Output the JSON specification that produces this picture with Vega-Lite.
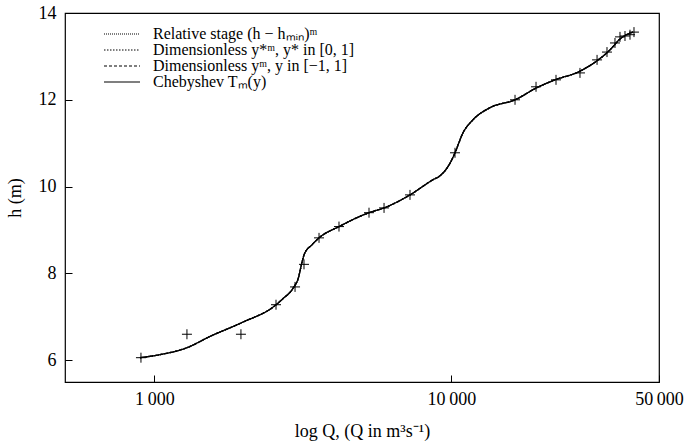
{
  "$schema": "https://vega.github.io/schema/vega-lite/v6.json",
  "width": 594,
  "height": 369,
  "autosize": {"type": "none"},
  "padding": {"left": 65, "top": 13, "right": 25, "bottom": 65},
  "background": "white",
  "config": {
    "view": {"stroke": "black", "strokeWidth": 1.2},
    "font": "Liberation Serif",
    "axis": {
      "domain": false,
      "grid": false,
      "tickColor": "black",
      "tickSize": -7,
      "tickWidth": 1,
      "labelFont": "Liberation Serif",
      "labelFontSize": 18,
      "labelColor": "black",
      "titleFont": "Liberation Serif",
      "titleFontSize": 18,
      "titleFontWeight": "normal",
      "titleColor": "black"
    },
    "legend": {
      "labelFont": "Liberation Serif",
      "labelFontSize": 16,
      "labelColor": "black",
      "labelLimit": 500
    }
  },
  "datasets": {
    "pts": [
      {"Q": 901, "h": 6.06},
      {"Q": 1287, "h": 6.60},
      {"Q": 1956, "h": 6.60},
      {"Q": 2567, "h": 7.28},
      {"Q": 2975, "h": 7.69},
      {"Q": 3189, "h": 8.21},
      {"Q": 3583, "h": 8.82},
      {"Q": 4183, "h": 9.08},
      {"Q": 5279, "h": 9.40},
      {"Q": 5932, "h": 9.51},
      {"Q": 7254, "h": 9.81},
      {"Q": 10282, "h": 10.78},
      {"Q": 16375, "h": 12.00},
      {"Q": 19270, "h": 12.30},
      {"Q": 22500, "h": 12.46},
      {"Q": 27100, "h": 12.62},
      {"Q": 30930, "h": 12.92},
      {"Q": 33410, "h": 13.10},
      {"Q": 35540, "h": 13.31},
      {"Q": 36950, "h": 13.45},
      {"Q": 38410, "h": 13.47},
      {"Q": 39930, "h": 13.50},
      {"Q": 41190, "h": 13.56}
    ],
    "curve": [
      {"Q": 894, "h": 6.06},
      {"Q": 1044, "h": 6.13},
      {"Q": 1287, "h": 6.29},
      {"Q": 1539, "h": 6.55},
      {"Q": 1972, "h": 6.87},
      {"Q": 2548, "h": 7.26},
      {"Q": 2710, "h": 7.42},
      {"Q": 2929, "h": 7.66},
      {"Q": 3060, "h": 7.92},
      {"Q": 3130, "h": 8.22},
      {"Q": 3200, "h": 8.45},
      {"Q": 3393, "h": 8.66},
      {"Q": 3583, "h": 8.82},
      {"Q": 4183, "h": 9.08},
      {"Q": 5279, "h": 9.40},
      {"Q": 5932, "h": 9.51},
      {"Q": 7254, "h": 9.81},
      {"Q": 8672, "h": 10.16},
      {"Q": 9155, "h": 10.25},
      {"Q": 9892, "h": 10.54},
      {"Q": 10282, "h": 10.78},
      {"Q": 10940, "h": 11.24},
      {"Q": 11820, "h": 11.54},
      {"Q": 13490, "h": 11.82},
      {"Q": 16375, "h": 12.00},
      {"Q": 19400, "h": 12.28},
      {"Q": 22320, "h": 12.46},
      {"Q": 26700, "h": 12.64},
      {"Q": 30930, "h": 12.90},
      {"Q": 34200, "h": 13.15},
      {"Q": 36950, "h": 13.40},
      {"Q": 40880, "h": 13.56}
    ]
  },
  "encoding": {
    "x": {
      "field": "Q",
      "type": "quantitative",
      "scale": {"type": "log", "domain": [500, 50000], "nice": false},
      "axis": {
        "values": [1000, 10000, 50000],
        "labelExpr": "replace(format(datum.value, ','), ',', '\u2009')",
        "labelPadding": 15,
        "labelFlush": false,
        "title": "log Q, (Q in m³s⁻¹)",
        "titlePadding": 14
      }
    },
    "y": {
      "field": "h",
      "type": "quantitative",
      "scale": {"domain": [5.5, 14], "nice": false, "zero": false},
      "axis": {
        "values": [6, 8, 10, 12, 14],
        "labelPadding": 16,
        "title": "h (m)",
        "titlePadding": 14
      }
    }
  },
  "layer": [
    {
      "data": {"name": "curve"},
      "mark": {"type": "line", "interpolate": "monotone", "color": "black", "strokeWidth": 1.3},
      "encoding": {
        "strokeDash": {
          "datum": "Relative stage (h − hₘᵢₙ)ᵐ",
          "type": "nominal",
          "scale": {
            "domain": ["Relative stage (h − hₘᵢₙ)ᵐ", "Dimensionless y*ᵐ, y* in [0, 1]", "Dimensionless yᵐ, y in [−1, 1]", "Chebyshev Tₘ(y)"],
            "range": [[1, 1], [1.5, 1.5], [3, 2], [1, 0]]
          },
          "legend": {
            "title": null,
            "orient": "none",
            "legendX": 49,
            "legendY": 13,
            "padding": 0,
            "symbolType": "M-3,0H3",
            "symbolSize": 144,
            "symbolFillColor": "transparent",
            "symbolStrokeColor": "black",
            "symbolStrokeWidth": 1.2,
            "labelOffset": 23,
            "labelLimit": 500,
            "rowPadding": -1
          }
        }
      }
    },
    {
      "data": {"name": "curve"},
      "mark": {"type": "line", "interpolate": "monotone", "color": "black", "strokeWidth": 1.3},
      "encoding": {"strokeDash": {"datum": "Dimensionless y*ᵐ, y* in [0, 1]", "type": "nominal"}}
    },
    {
      "data": {"name": "curve"},
      "mark": {"type": "line", "interpolate": "monotone", "color": "black", "strokeWidth": 1.3},
      "encoding": {"strokeDash": {"datum": "Dimensionless yᵐ, y in [−1, 1]", "type": "nominal"}}
    },
    {
      "data": {"name": "curve"},
      "mark": {"type": "line", "interpolate": "monotone", "color": "black", "strokeWidth": 1.3},
      "encoding": {"strokeDash": {"datum": "Chebyshev Tₘ(y)", "type": "nominal"}}
    },
    {
      "data": {"name": "pts"},
      "mark": {"type": "point", "shape": "M-1,0H1M0,-1V1", "filled": false, "stroke": "black", "strokeWidth": 1, "size": 100, "opacity": 1}
    }
  ]
}
